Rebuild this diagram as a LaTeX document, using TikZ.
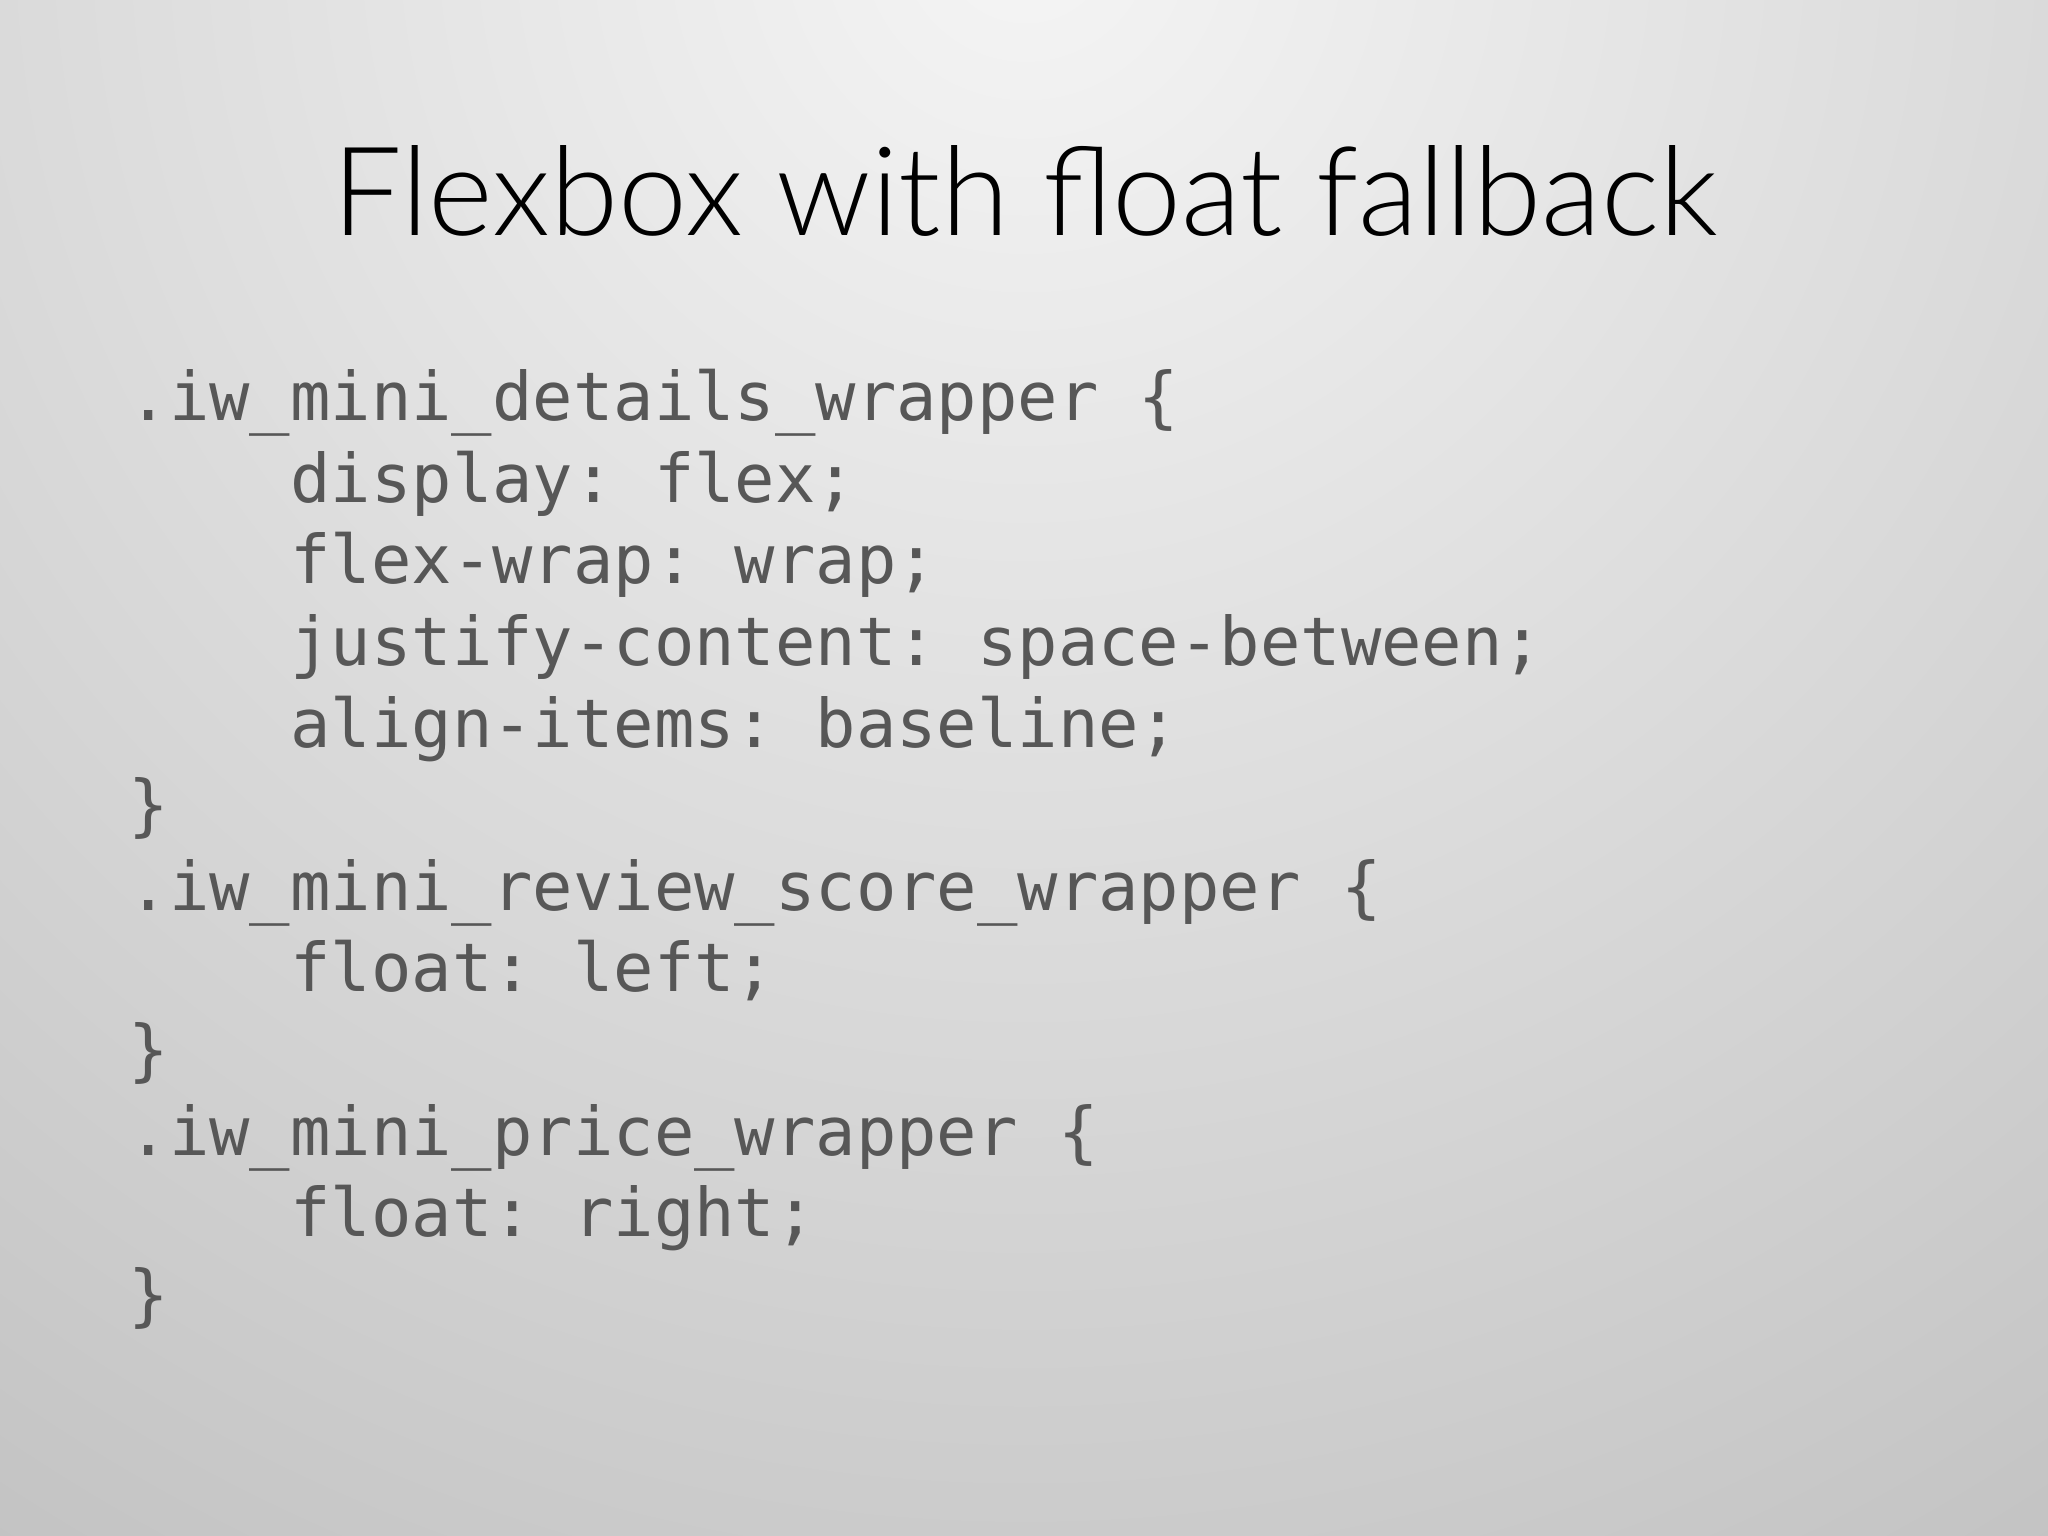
\documentclass[tikz,border=0pt]{standalone}
\usepackage{fontspec}
\setmonofont{DejaVu Sans Mono}
\newfontfamily\titlefont{Lato Light}
\begin{document}
\begin{tikzpicture}[x=0.013061cm,y=-0.013061cm,
  code/.style={anchor=base west,inner sep=0,text=black!66,font=\ttfamily\fontsize{19.1}{23}\selectfont}]
\useasboundingbox (0,0) rectangle (1568,1176);
\begin{scope}
\clip (0,0) rectangle (1568,1176);
\shade[inner color=black!4,outer color=black!24,shading=radial] (785,-50) circle (1500);
\end{scope}
\node[anchor=base,inner sep=0,font=\titlefont\fontsize{35.2}{42}\selectfont] (title) at (785,180) {Flexbox with float fallback};
\foreach \t [count=\i] in {{.iw\_mini\_details\_wrapper \{},
{\ \ \ \ display: flex;},
{\ \ \ \ flex-wrap: wrap;},
{\ \ \ \ justify-content: space-between;},
{\ \ \ \ align-items: baseline;},
{\}},
{.iw\_mini\_review\_score\_wrapper \{},
{\ \ \ \ float: left;},
{\}},
{.iw\_mini\_price\_wrapper \{},
{\ \ \ \ float: right;},
{\}}}
  \node[code] (l\i) at (98,{322+62.5*(\i-1)}) {\t};
\end{tikzpicture}
\end{document}
